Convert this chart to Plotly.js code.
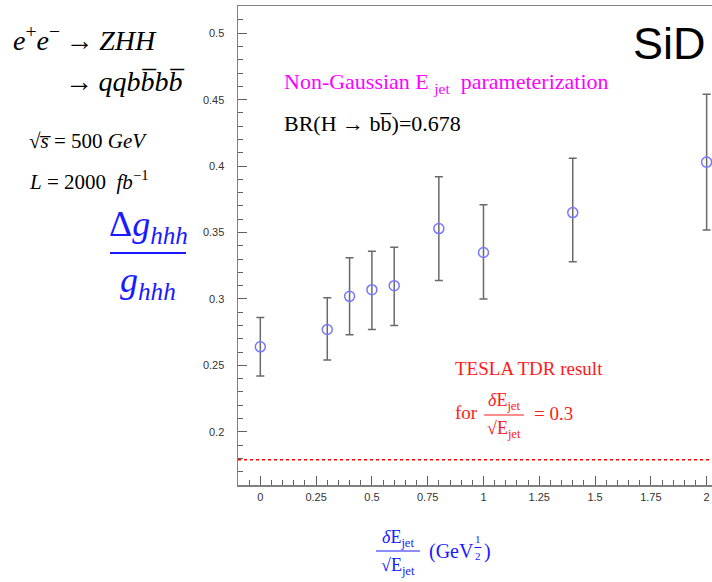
<!DOCTYPE html>
<html>
<head>
<meta charset="utf-8">
<script src="https://cdn.plot.ly/plotly-3.0.1.min.js"></script>
<style>html,body{margin:0;padding:0;background:#fff;overflow:hidden}</style>
</head>
<body>
<div id="chart" style="width:712px;height:582px"></div>
<script>
// ---- data ----
const resolution = [0, 0.3, 0.4, 0.5, 0.6, 0.8, 1.0, 1.4, 2.0];          // dE/sqrt(E) (GeV^1/2)
const dgOverG    = [0.264, 0.277, 0.302, 0.307, 0.310, 0.353, 0.335, 0.365, 0.403];
const errUp      = [0.022, 0.024, 0.029, 0.029, 0.029, 0.039, 0.036, 0.041, 0.051];
const errDown    = [0.022, 0.023, 0.029, 0.030, 0.030, 0.039, 0.035, 0.037, 0.051];
const teslaTDR   = 0.179;
const yTickVals  = [0.2, 0.25, 0.3, 0.35, 0.4, 0.45, 0.5];
const yTickText  = ['0.2', '0.25', '0.3', '0.35', '0.4', '0.45', '0.5'];
const xTickVals  = [0, 0.25, 0.5, 0.75, 1, 1.25, 1.5, 1.75, 2];
const xTickText  = ['0', '0.25', '0.5', '0.75', '1', '1.25', '1.5', '1.75', '2'];

// ---- layout helpers (pixel -> paper) ----
const W = 712, H = 582, L = 238, R = 0, T = 6, B = 97;
const pw = W - L - R, ph = H - T - B;
const px = x => (x - L) / pw;
const py = y => (H - B - y) / ph;

const serif = 'Liberation Serif';
const sans = 'Liberation Sans';
const blue = '#1a1aff';
const red = '#ff1a1a';

function ann(text, x, y, size, color, xanchor, extra) {
  return Object.assign({
    text: text, xref: 'paper', yref: 'paper', x: px(x), y: py(y),
    xanchor: xanchor || 'left', yanchor: 'middle', showarrow: false,
    font: {family: serif, size: size, color: color || '#000'}
  }, extra || {});
}

const annotations = [
  ann('<i>e</i><sup>+</sup><i>e</i><sup>\u2212</sup>\u2009\u2192\u2009<i>ZHH</i>', 11, 38, 28),
  ann('\u2192\u2009<i>qqbb\u0305bb\u0305</i>', 63, 82, 28),
  ann('\u221a<i>s\u0305</i> = 500 <i>GeV</i>', 27, 141, 21),
  ann('<i>L</i> = 2000  <i>fb</i><sup>\u22121</sup>', 27, 180, 21),
  ann('\u0394<i>g<sub>hhh</sub></i>', 148, 226, 36, blue, 'center'),
  ann('<i>g<sub>hhh</sub></i>', 148, 282, 36, blue, 'center'),
  ann('SiD', 708, 43, 45, '#000', 'right', {font: {family: sans, size: 45, color: '#000'}}),
  ann('Non-Gaussian E <sub>jet</sub>  parameterization', 282, 83, 22, '#ff00ff'),
  ann('BR(H \u2192 bb\u0305)=0.678', 282, 123, 22, '#000'),
  ann('TESLA TDR result', 453, 369, 19, red),
  ann('for', 453, 412, 19, red),
  ann('<i>\u03b4</i>E<sub>jet</sub>', 504, 401, 18, red, 'center'),
  ann('\u221aE<sub>jet</sub>', 504, 429, 18, red, 'center'),
  ann('= 0.3', 532, 413, 19, red),
  ann('<i>\u03b4</i>E<sub>jet</sub>', 398, 538, 18, blue, 'center'),
  ann('\u221aE<sub>jet</sub>', 398, 566, 18, blue, 'center'),
  ann('(GeV', 427, 551, 20, blue),
  ann('1', 478, 539, 11, blue, 'center'),
  ann('2', 478, 556, 11, blue, 'center'),
  ann(')', 482, 551, 20, blue)
];

const shapes = [
  {type: 'line', xref: 'paper', yref: 'y', x0: 0, x1: 1, y0: teslaTDR, y1: teslaTDR,
   line: {color: '#ff0000', width: 1.5, dash: 'dot'}},
  {type: 'line', xref: 'paper', yref: 'paper', x0: px(110), x1: px(186), y0: py(253), y1: py(253),
   line: {color: blue, width: 2}},
  {type: 'line', xref: 'paper', yref: 'paper', x0: px(484), x1: px(524), y0: py(415), y1: py(415),
   line: {color: red, width: 1}},
  {type: 'line', xref: 'paper', yref: 'paper', x0: px(376), x1: px(420), y0: py(551), y1: py(551),
   line: {color: blue, width: 1}},
  {type: 'line', xref: 'paper', yref: 'paper', x0: px(474.5), x1: px(481.5), y0: py(547.5), y1: py(547.5),
   line: {color: blue, width: 1}}
];

const trace = {
  x: resolution, y: dgOverG, type: 'scatter', mode: 'markers',
  marker: {symbol: 'circle-open', size: 10, color: '#7777ff', line: {width: 1.5, color: '#7777ff'}},
  error_y: {type: 'data', symmetric: false, array: errUp, arrayminus: errDown,
            color: '#6a6a6a', thickness: 1.5, width: 4},
  cliponaxis: true, showlegend: false
};

const layout = {
  width: W, height: H,
  margin: {l: L, r: R, t: T, b: B, pad: 0},
  paper_bgcolor: '#fff', plot_bgcolor: '#fff',
  showlegend: false,
  xaxis: {
    range: [-0.1, 2.024], showgrid: false, zeroline: false,
    showline: true, linecolor: '#808080', linewidth: 1.5, mirror: true,
    tickmode: 'array', tickvals: xTickVals, ticktext: xTickText,
    ticks: 'inside', ticklen: 9, tickcolor: '#606060', tickwidth: 1,
    minor: {dtick: 0.05, tick0: 0, ticks: 'inside', ticklen: 5, tickcolor: '#606060', tickwidth: 1, showgrid: false},
    tickfont: {family: sans, size: 11, color: '#333'}, ticklabelstandoff: 1
  },
  yaxis: {
    range: [0.16, 0.5205], showgrid: false, zeroline: false,
    showline: true, linecolor: '#808080', linewidth: 1.5, mirror: false,
    tickmode: 'array', tickvals: yTickVals, ticktext: yTickText,
    ticks: 'inside', ticklen: 9, tickcolor: '#606060', tickwidth: 1,
    minor: {dtick: 0.01, tick0: 0, ticks: 'inside', ticklen: 5, tickcolor: '#606060', tickwidth: 1, showgrid: false},
    tickfont: {family: sans, size: 11, color: '#333'}, ticklabelstandoff: 10
  },
  annotations: annotations,
  shapes: shapes
};

Plotly.newPlot('chart', [trace], layout, {displayModeBar: false, staticPlot: true});
</script>
</body>
</html>
